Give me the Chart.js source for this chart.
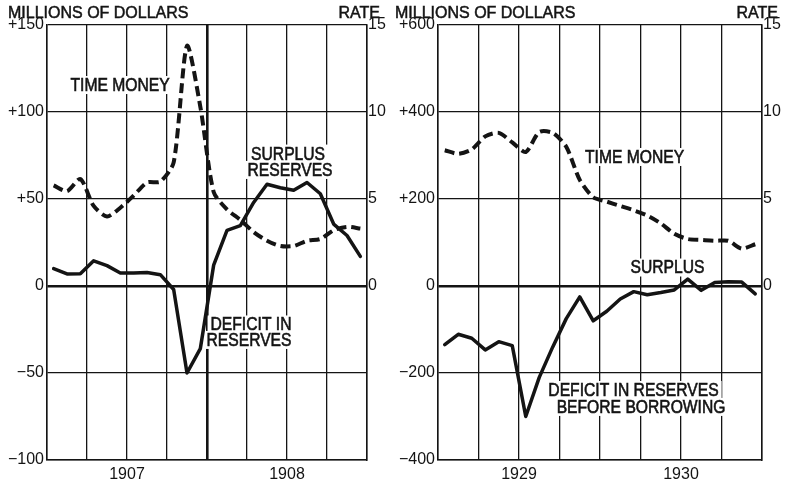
<!DOCTYPE html>
<html><head><meta charset="utf-8">
<script src="https://cdn.jsdelivr.net/npm/chart.js@4.4.1/dist/chart.umd.min.js"></script>
<style>
html,body{margin:0;padding:0;background:#fff;}
#wrap{position:relative;width:785px;height:485px;overflow:hidden;background:#fff;}
#c1box{position:absolute;left:0;top:0;width:392px;height:485px;}
#c2box{position:absolute;left:385px;top:0;width:400px;height:485px;}
</style></head><body>
<div id="wrap">
  <div id="c1box"><canvas id="c1" width="392" height="485"></canvas></div>
  <div id="c2box"><canvas id="c2" width="400" height="485"></canvas></div>
</div>
<script>
// ---- data (monthly) ----
const monthNames = ['Jan','Feb','Mar','Apr','May','Jun','Jul','Aug','Sep','Oct','Nov','Dec'];
const years1907 = ['1907', '1908'];
const years1929 = ['1929', '1930'];
const months1907 = years1907.flatMap(y => monthNames.map(m => m + ' ' + y));
const months1929 = years1929.flatMap(y => monthNames.map(m => m + ' ' + y));

// surplus (+) / deficit (-) in reserves, millions of dollars
const reserves1907 = [10, 6.9, 7, 14.5, 11.7, 7.5, 7.5, 7.8, 6.5, -2, -50, -36,
                      12, 32, 34.7, 48, 58.5, 56.5, 55, 59.5, 53, 35.6, 29, 17];
// time money rate, per cent
const timeMoney1907 = [5.78, 5.45, 6.15, 4.6, 4.0, 4.5, 5.2, 5.95, 6.0, 7.1, 13.8, 10.3,
                       5.4, 4.4, 3.8, 3.1, 2.6, 2.3, 2.3, 2.6, 2.7, 3.2, 3.4, 3.3];
// deficit in reserves before borrowing / surplus, millions of dollars
const reserves1929 = [-135, -111, -120, -147, -128, -137, -300, -210, -140, -75, -25, -80,
                      -58, -30, -13, -20, -15, -9, 16, -10, 8, 10, 9, -18];
const timeMoney1929 = [7.8, 7.6, 7.85, 8.6, 8.8, 8.25, 7.7, 8.85, 8.8, 8.0, 6.1, 5.1,
                       4.85, 4.6, 4.35, 4.05, 3.6, 3.0, 2.7, 2.65, 2.6, 2.6, 2.15, 2.4];

const dollarTicks1907 = [-100, -50, 0, 50, 100, 150];
const dollarTicks1929 = [-400, -200, 0, 200, 400, 600];
const rateTicks = [-10, -5, 0, 5, 10, 15];
const rateLabels = ['', '', '0', '5', '10', '15'];

const INK = '#141414';
Chart.defaults.font.family = '"Liberation Sans", Arial, sans-serif';
Chart.defaults.font.size = 16;
Chart.defaults.color = INK;

function fmtDollar(v) {
  if (v > 0) return '+' + v;
  if (v < 0) return '\u2212' + (-v);
  return '0';
}

function makeTextPlugin(cfg) {
  return {
    id: 'texts',
    beforeDatasetsDraw(chart) {
      const {ctx, scales} = chart;
      cfg.notes.forEach(n => {
        const px = scales.x.getPixelForValue(n.x);
        const py = scales.y.getPixelForValue(n.y);
        ctx.save();
        ctx.font = '18px "Liberation Sans", Arial, sans-serif';
        const sx = 0.87;
        const w = ctx.measureText(n.text).width * sx;
        ctx.fillStyle = '#fff';
        ctx.fillRect(px - w / 2 - 3, py - 9, w + 6, 18);
        ctx.translate(px, py);
        ctx.scale(sx, 1);
        ctx.fillStyle = INK;
        ctx.strokeStyle = INK;
        ctx.lineWidth = 0.6;
        ctx.textAlign = 'center';
        ctx.textBaseline = 'middle';
        ctx.fillText(n.text, 0, 1);
        ctx.strokeText(n.text, 0, 1);
        ctx.restore();
      });
    },
    afterDraw(chart) {
      const ctx = chart.ctx;
      ctx.save();
      ctx.font = '16px "Liberation Sans", Arial, sans-serif';
      ctx.fillStyle = INK;
      ctx.strokeStyle = INK;
      ctx.lineWidth = 0.5;
      ctx.textBaseline = 'alphabetic';
      ctx.textAlign = 'left';
      ctx.fillText('MILLIONS OF DOLLARS', cfg.titleX, 18);
      ctx.strokeText('MILLIONS OF DOLLARS', cfg.titleX, 18);
      ctx.textAlign = 'right';
      ctx.fillText('RATE', cfg.rateX, 18);
      ctx.strokeText('RATE', cfg.rateX, 18);
      ctx.restore();
    }
  };
}

function buildChart(id, cfg) {
  const pts = arr => arr.map((v, i) => ({x: i + 0.5, y: v, label: cfg.categories[i]}));
  return new Chart(document.getElementById(id), {
    type: 'line',
    data: {
      datasets: [
        {label: 'Time money', data: pts(cfg.timeMoney), yAxisID: 'rate',
         borderColor: INK, borderWidth: 4, borderDash: [10, 5], borderCapStyle: 'butt',
         tension: 0.25, pointRadius: 0, fill: false},
        {label: 'Reserves', data: pts(cfg.reserves), yAxisID: 'y',
         borderColor: INK, borderWidth: 3.5, borderJoinStyle: 'round', borderCapStyle: 'round',
         tension: 0, pointRadius: 0, fill: false}
      ]
    },
    options: {
      responsive: false, animation: false, devicePixelRatio: 1,
      layout: {padding: {top: 25, bottom: 0, left: 0, right: 0}},
      plugins: {legend: {display: false}, tooltip: {enabled: false}},
      scales: {
        x: {
          type: 'linear', min: 0, max: 24,
          ticks: {stepSize: 3, autoSkip: false, maxRotation: 0, padding: 5,
                  callback: v => (v % 12 === 6 ? cfg.years[(v - 6) / 12] : '')},
          grid: {color: INK, drawTicks: false,
                 lineWidth: c => (cfg.boldMid && c.tick && c.tick.value === 12) ? 2.6 : 1.3},
          border: {display: true, color: INK, width: 1.5},
          afterFit: s => { s.height = 25; }
        },
        y: {
          type: 'linear', position: 'left',
          min: cfg.dollarTicks[0], max: cfg.dollarTicks[cfg.dollarTicks.length - 1],
          afterBuildTicks: s => { s.ticks = cfg.dollarTicks.map(v => ({value: v})); },
          ticks: {padding: 3, callback: v => fmtDollar(v)},
          grid: {color: INK, drawTicks: false,
                 lineWidth: c => (c.tick && c.tick.value === 0) ? 2.6 : 1.3},
          border: {display: true, color: INK, width: 1.5},
          afterFit: s => { s.width = cfg.leftW; }
        },
        rate: {
          type: 'linear', position: 'right', min: -10, max: 15,
          afterBuildTicks: s => { s.ticks = rateTicks.map(v => ({value: v})); },
          ticks: {padding: 1, callback: (v, i) => rateLabels[i]},
          grid: {display: false, drawTicks: false},
          border: {display: true, color: INK, width: 1.5},
          afterFit: s => { s.width = cfg.rightW; }
        }
      }
    },
    plugins: [makeTextPlugin(cfg)]
  });
}

buildChart('c1', {
  categories: months1907, reserves: reserves1907, timeMoney: timeMoney1907,
  years: years1907, dollarTicks: dollarTicks1907, leftW: 47, rightW: 25, boldMid: true,
  titleX: 8, rateX: 380,
  notes: [
    {text: 'TIME MONEY', x: 5.48, y: 115.5},
    {text: 'SURPLUS', x: 18.08, y: 76.1},
    {text: 'RESERVES', x: 18.23, y: 66.7},
    {text: 'DEFICIT IN', x: 15.3, y: -22.1},
    {text: 'RESERVES', x: 15.15, y: -31.0}
  ]
});

buildChart('c2', {
  categories: months1929, reserves: reserves1929, timeMoney: timeMoney1929,
  years: years1929, dollarTicks: dollarTicks1929, leftW: 53, rightW: 23, boldMid: false,
  titleX: 10, rateX: 393,
  notes: [
    {text: 'TIME MONEY', x: 14.56, y: 296.6},
    {text: 'SURPLUS', x: 17.0, y: 42.5},
    {text: 'DEFICIT IN RESERVES', x: 14.48, y: -239},
    {text: 'BEFORE BORROWING', x: 15.04, y: -278}
  ]
});
</script>
</body></html>
